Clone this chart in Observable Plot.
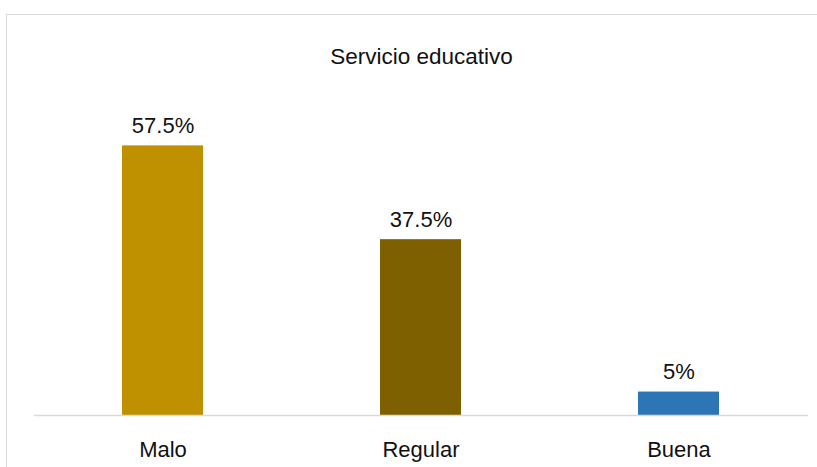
<!DOCTYPE html>
<html>
<head>
<meta charset="utf-8">
<script src="https://cdn.jsdelivr.net/npm/d3@7"></script>
<script src="https://cdn.jsdelivr.net/npm/@observablehq/plot@0.6"></script>
<style>
  html, body { margin: 0; padding: 0; background: #fff; }
  #wrap { position: relative; width: 817px; height: 467px; overflow: hidden; }
  #border { position: absolute; left: 6px; top: 14px; width: 830px; height: 480px; border: 1px solid #d9d9d9; box-sizing: border-box; }
  #chart { position: absolute; left: 0; top: 0; }
</style>
</head>
<body>
<div id="wrap"><div id="border"></div><div id="chart"></div></div>
<script>
const categories = ["Malo", "Regular", "Buena"];
const values = [57.5, 37.5, 5];
const labels = ["57.5%", "37.5%", "5%"];
const colors = ["#BF9000", "#7F6000", "#2E75B6"];
const title = "Servicio educativo";

const data = categories.map((c, i) => ({cat: c, v: values[i], label: labels[i], color: colors[i]}));

const chart = Plot.plot({
  width: 817,
  height: 467,
  marginLeft: 34,
  marginRight: 9,
  marginTop: 136,
  marginBottom: 52,
  style: {fontFamily: "'Liberation Sans', Arial, sans-serif", fontSize: "22px", color: "#111", background: "transparent"},
  x: {domain: categories, paddingInner: 0.686, paddingOuter: 0.343, label: null, tickSize: 0, tickPadding: 26},
  y: {domain: [0, 59.5], axis: null},
  marks: [
    Plot.barY(data, {x: "cat", y: "v", fill: "color"}),
    Plot.ruleY([0], {stroke: "#d9d9d9", strokeWidth: 1.5}),
    Plot.text(data, {x: "cat", y: "v", text: "label", dy: -20, fontSize: 22, fill: "#111"}),
    Plot.text([title], {frameAnchor: "top", dy: -88, fontSize: 22.5, fill: "#111"})
  ]
});
document.getElementById("chart").appendChild(chart);
</script>
</body>
</html>
